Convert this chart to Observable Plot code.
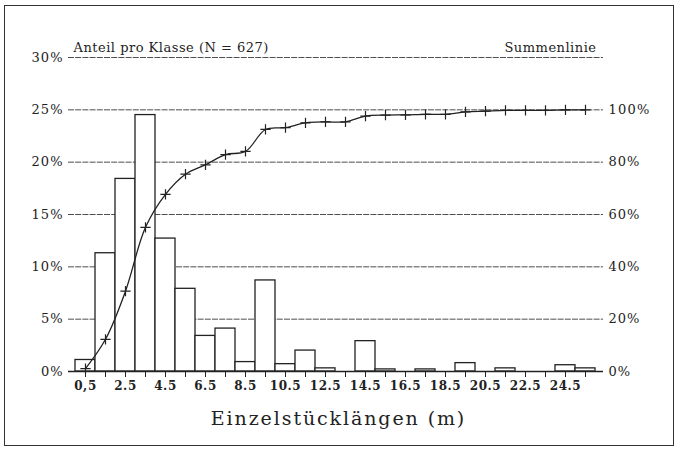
<!DOCTYPE html>
<html>
<head>
<meta charset="utf-8">
<script src="https://cdn.jsdelivr.net/npm/d3@7"></script>
<script src="https://cdn.jsdelivr.net/npm/@observablehq/plot@0.6"></script>
<style>
  html, body { margin: 0; padding: 0; background: #ffffff; }
  #wrap { position: relative; width: 681px; height: 453px; }
  #border { position: absolute; left: 4px; top: 5px; width: 670px; height: 441px; border: 1.5px solid #333; box-sizing: border-box; pointer-events: none; }
</style>
</head>
<body>
<div id="wrap"><div id="border"></div></div>
<script>
// Bin centres (m)
const binCenters = [0.5, 1.5, 2.5, 3.5, 4.5, 5.5, 6.5, 7.5, 8.5, 9.5, 10.5, 11.5, 12.5,
  13.5, 14.5, 15.5, 16.5, 17.5, 18.5, 19.5, 20.5, 21.5, 22.5, 23.5, 24.5, 25.5];
// Share per class (%)
const sharePct = [1.1, 11.3, 18.4, 24.5, 12.7, 7.9, 3.4, 4.1, 0.9, 8.7, 0.7, 2.0, 0.3,
  0, 2.9, 0.2, 0, 0.2, 0, 0.8, 0, 0.3, 0, 0, 0.6, 0.3];
// Cumulative line (%)
const cumulativePct = [1.1, 12.3, 30.7, 55.1, 67.7, 75.4, 79.0, 82.9, 84.1, 92.5, 93.2, 95.0, 95.4,
  95.4, 97.6, 98.0, 98.1, 98.3, 98.3, 99.2, 99.5, 99.8, 99.8, 99.8, 100, 100];
// Axis ticks / labels
const leftTicks = [0, 5, 10, 15, 20, 25, 30];
const rightTicks = [0, 20, 40, 60, 80, 100];
const xLabelValues = [0.5, 2.5, 4.5, 6.5, 8.5, 10.5, 12.5, 14.5, 16.5, 18.5, 20.5, 22.5, 24.5];
const xLabelTexts = ["0,5", "2.5", "4.5", "6.5", "8.5", "10.5", "12.5", "14.5", "16.5", "18.5", "20.5", "22.5", "24.5"];
const titleLeft = "Anteil pro Klasse (N = 627)";
const titleRight = "Summenlinie";
const xTitle = "Einzelstücklängen (m)";

const bins = binCenters.map((x, i) => ({x, pct: sharePct[i]})).filter(d => d.pct > 0);
const cum = binCenters.map((x, i) => ({x, c: cumulativePct[i]}));
const labelMap = new Map(xLabelValues.map((v, i) => [v, xLabelTexts[i]]));
const ratio = 100 / 25; // right axis 100% == left axis 25%

const font = "'DejaVu Serif', 'Liberation Serif', serif";

const chart = Plot.plot({
  width: 681,
  height: 453,
  marginLeft: 68,
  marginRight: 78,
  marginTop: 57,
  marginBottom: 82,
  x: {domain: [-0.35, 26.4], axis: null},
  y: {domain: [0, 30], axis: null},
  style: {fontFamily: font, fontSize: "12.5px", background: "transparent", color: "#222"},
  marks: [
    Plot.ruleY(leftTicks.filter(d => d > 0), {stroke: "#3a3a3a", strokeWidth: 0.9, strokeDasharray: "6,1.2"}),
    Plot.text(leftTicks, {y: d => d, text: d => d + "%", frameAnchor: "left", textAnchor: "end", dx: -5, fontSize: 13, fill: "#222"}),
    Plot.text(rightTicks, {y: d => d / ratio, text: d => d + "%", frameAnchor: "right", textAnchor: "start", dx: 5, fontSize: 13, fill: "#222"}),
    Plot.rectY(bins, {x1: d => d.x - 0.5, x2: d => d.x + 0.5, y: "pct", fill: "white", stroke: "#222", strokeWidth: 1.3}),
    Plot.ruleY([0], {stroke: "#222", strokeWidth: 1.4}),
    Plot.axisX({ticks: binCenters, tickSize: 6, tickPadding: 4, label: null, tickFormat: d => labelMap.get(d) ?? "", fontSize: 12, fontWeight: "bold", stroke: "#222", fill: "#222"}),
    Plot.line(cum, {x: "x", y: d => d.c / ratio, curve: "catmull-rom", stroke: "#222", strokeWidth: 1.3}),
    Plot.dot(cum, {x: "x", y: d => d.c / ratio, symbol: "plus", r: 3.4, stroke: "#222", strokeWidth: 1.2}),
    Plot.text([titleLeft], {frameAnchor: "top-left", textAnchor: "start", lineAnchor: "bottom", dx: 5, dy: -6, fontSize: 13, fill: "#222"}),
    Plot.text([titleRight], {frameAnchor: "top-right", textAnchor: "end", lineAnchor: "bottom", dx: -7, dy: -6, fontSize: 13, fill: "#222"}),
    Plot.text([xTitle], {frameAnchor: "bottom", lineAnchor: "middle", dx: 2.5, dy: 47, fontSize: 19, fill: "#222"})
  ]
});
document.getElementById("wrap").appendChild(chart);

// letter spacing to match the wide lettering of the original
const xLabelSet = new Set(xLabelTexts);
d3.select(chart).selectAll("text").each(function() {
  const t = this.textContent;
  let ls = null;
  if (t === xTitle) ls = 1.9;
  else if (t === titleLeft || t === titleRight) ls = 0.5;
  else if (xLabelSet.has(t)) ls = 0.6;
  else if (t.endsWith("%")) ls = t.length >= 4 ? 1.2 : 1;
  if (ls != null) this.setAttribute("letter-spacing", ls);
});
</script>
</body>
</html>
